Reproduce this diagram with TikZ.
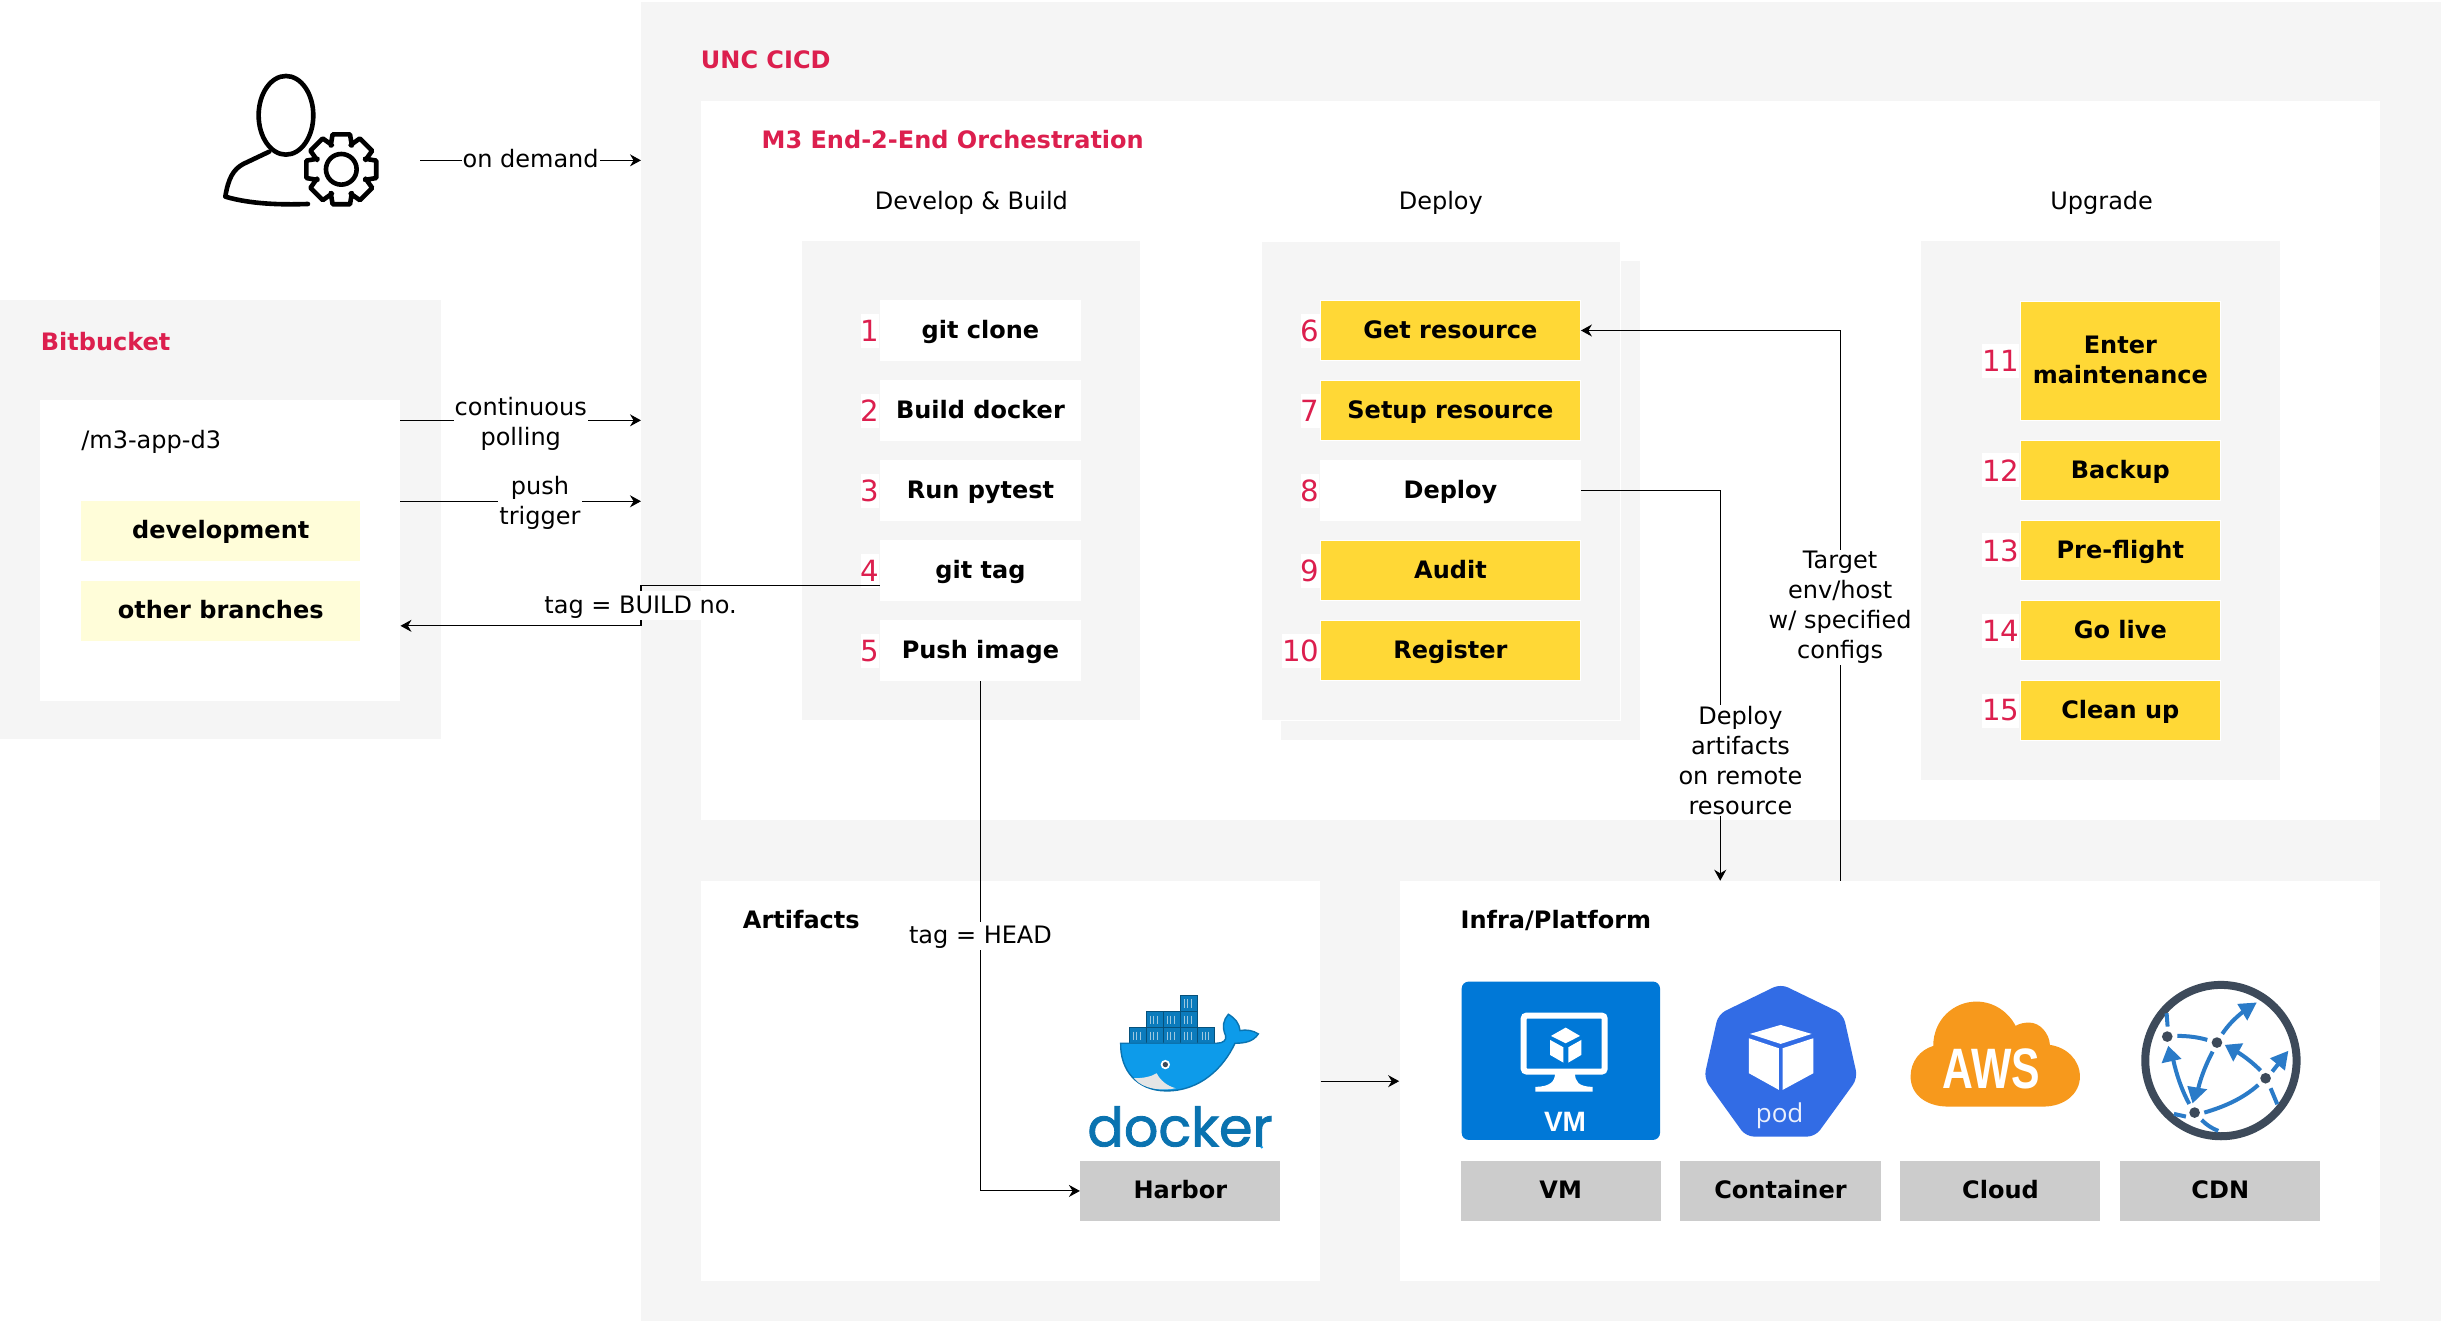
\documentclass[tikz,border=0pt]{standalone}
\usepackage{fontspec}
\usepackage{graphicx}
\setmainfont{DejaVu Sans}
\newfontfamily\logofont[FakeBold=1.6]{Poppins}
\newfontfamily\awsfont{Liberation Sans}
\newfontfamily\podfont{Open Sans}
\usetikzlibrary{arrows.meta}
\definecolor{panelgray}{HTML}{F5F5F5}
\definecolor{crimson}{HTML}{DC1F4E}
\definecolor{stepyellow}{HTML}{FFD836}
\definecolor{branchyellow}{HTML}{FFFDD9}
\definecolor{tilegray}{HTML}{CCCCCC}
\definecolor{dockerblue}{HTML}{0D9BEA}
\definecolor{dockerdark}{HTML}{0A73B0}
\definecolor{vmblue}{HTML}{0078D7}
\definecolor{podblue}{HTML}{326CE5}
\definecolor{awsorange}{HTML}{F7991C}
\definecolor{cdndark}{HTML}{3D4A5A}
\definecolor{cdnblue}{HTML}{2A7BC8}
\newcommand{\pxu}{0.77838pt}
\tikzset{wh/.style 2 args={minimum width=#1*\pxu,minimum height=#2*\pxu}}
\begin{document}
\begin{tikzpicture}[x=0.77838pt,y=-0.77838pt]
    \tikzstyle{every node}=[font=\fontsize{12}{15}\selectfont]
    \tikzstyle{oneline} = [text height=10.1pt, text depth=2.5pt];
    \tikzstyle{panel} = [fill=panelgray, inner sep=0pt];
    \tikzstyle{whitebox} = [fill=white, inner sep=0pt];
    \tikzstyle{stepbox} = [whitebox, font=\fontsize{12}{15}\selectfont\bfseries];
    \tikzstyle{yellowbox} = [stepbox, fill=stepyellow, draw=white, line width=0.5pt];
    \tikzstyle{branch} = [stepbox, oneline, fill=branchyellow, wh={179}{38.5}];
    \tikzstyle{tile} = [stepbox, oneline, fill=tilegray, wh={128.5}{38.5}];
    \tikzstyle{num} = [fill=white, text=crimson, inner sep=0pt, minimum height=17pt, anchor=east, font=\fontsize{14.6}{15}\selectfont];
    \tikzstyle{title} = [oneline, anchor=west, inner sep=0pt, text=crimson, font=\fontsize{12}{15}\selectfont\bfseries];
    \tikzstyle{head} = [oneline, anchor=west, inner sep=0pt, font=\fontsize{12}{15}\selectfont\bfseries];
    \tikzstyle{lbl} = [fill=white, inner xsep=0.5pt, inner ysep=0.8pt, align=center];
    \tikzstyle{marrow} = [black, line width=0.55pt, -{Stealth[length=5.5pt,width=6pt,inset=1.8pt]}];
    \tikzstyle{zoomed} = [x=0.16667pt,y=-0.16667pt];

    \useasboundingbox (0,0) rectangle (1568,848.55);

    % panels
    \node[panel, wh={1156}{848}] (unc) at (990,425) {};
    \node[whitebox, wh={1079}{462}] (orch) at (989.5,296) {};
    \node[panel, wh={217}{307.7}] (build) at (623.5,308.6) {};
    \node[panel, wh={230.6}{307.7}] (deployback) at (938.1,321.5) {};
    \node[panel, draw=white, line width=0.3pt, wh={230.6}{307.7}] (deploy) at (925.3,308.6) {};
    \node[panel, wh={230.6}{346}] (upgrade) at (1349,328) {};
    \node[panel, wh={283}{282}] (bit) at (141.5,334) {};
    \node[whitebox, wh={231}{193}] (bitbox) at (141.5,353.5) {};
    \node[whitebox, wh={398}{257}] (artifacts) at (649,694.5) {};
    \node[whitebox, wh={630}{257}] (infra) at (1214,694.5) {};

    % texts
    \node[title] (unc-t) at (450,39) {UNC CICD};
    \node[title] (orch-t) at (489,90.5) {M3 End-2-End Orchestration};
    \node[title] (bit-t) at (26,220) {Bitbucket};
    \node[oneline] (build-t) at (624,129.5) {Develop \& Build};
    \node[oneline] (deploy-t) at (925.5,129.5) {Deploy};
    \node[oneline] (upgrade-t) at (1350,129.5) {Upgrade};
    \node[oneline, anchor=west, inner sep=0pt] (repo) at (52,283.5) {/m3-app-d3};
    \node[head] (artifacts-t) at (477,591.5) {Artifacts};
    \node[head] (infra-t) at (938,591.5) {Infra/Platform};

    \node[branch] (dev) at (141.8,340.8) {development};
    \node[branch] (other) at (141.8,392.2) {other branches};

    % steps
    \foreach \n/\t/\y in {1/git clone/212.3,2/Build docker/263.7,3/Run pytest/315.1,4/git tag/366.5,5/Push image/417.9} {
        \node[stepbox, oneline, wh={129.1}{39.2}] (S-\n) at (629.8,\y) {\t};
        \node[num] (N-\n) at (S-\n.west) {\n};
    }

    \foreach \n/\t/\y in {6/Get resource/212.3,7/Setup resource/263.7,9/Audit/366.5,10/Register/417.9} {
        \node[yellowbox, oneline, wh={167}{38.5}] (S-\n) at (931.7,\y) {\t};
        \node[num] (N-\n) at (S-\n.west) {\n};
    }
    \node[stepbox, oneline, wh={167.6}{39.2}] (S-8) at (931.7,315.1) {Deploy};
    \node[num] (N-8) at (S-8.west) {8};

    \node[yellowbox, align=center, wh={128.5}{76.5}] (S-11) at (1362,231.6) {\raisebox{0.7pt}{Enter}\\\raisebox{0.7pt}{maintenance}};
    \node[num] (N-11) at (S-11.west) {11};
    \foreach \n/\t/\y in {12/Backup/302.2,13/Pre-flight/353.6,14/Go live/405,15/Clean up/456.4} {
        \node[yellowbox, oneline, wh={128.5}{38.5}] (S-\n) at (1362,\y) {\t};
        \node[num] (N-\n) at (S-\n.west) {\n};
    }

    % platform tiles
    \node[tile] (harbor) at (758.2,765) {Harbor};
    \node[tile] (vm) at (1002.5,765) {VM};
    \node[tile] (container) at (1143.7,765) {Container};
    \node[tile] (cloud) at (1285,765) {Cloud};
    \node[tile] (cdn) at (1426.2,765) {CDN};

    % connectors
    \coordinate (user) at (270,103);
    \coordinate (c-poll) at (0,270);
    \coordinate (c-push) at (0,322);
    \coordinate (c-tag) at (0,376);
    \coordinate (c-back) at (0,402);
    \coordinate (c-depl) at (1105,0);
    \coordinate (c-target) at (1182,0);

    \draw[marrow] (user) -- node[lbl, oneline] (on-demand) {on demand} (user -| unc.west);
    \draw[marrow] (c-poll -| bitbox.east) -- node[lbl, yshift=-1.8pt] (poll) {continuous\\polling} (c-poll -| unc.west);
    \draw[marrow] (c-push -| bitbox.east) -- node[lbl, pos=0.58, yshift=-1pt] (push) {push\\trigger} (c-push -| unc.west);
    \draw[marrow] (c-tag -| S-4.west) -- (c-tag -| unc.west) -- (c-back -| unc.west) -- (c-back -| bitbox.east);
    \node[lbl, oneline] (tag-build) at (411.5,389) {tag = BUILD no.};
    \draw[marrow] (S-5.south) |- node[lbl, oneline, pos=0.25] (tag-head) {tag = HEAD} (harbor.west);
    \draw[marrow] (artifacts.east) -- (infra.west);
    \draw[marrow] (S-8.east) -| (c-depl |- infra.north);
    \node[lbl] (deploy-l) at (1118,488.5) {Deploy\\artifacts\\on remote\\resource};
    \draw[marrow] (c-target |- infra.north) |- node[lbl, pos=0.25, yshift=-1pt] (target) {Target\\env/host\\w/ specified\\configs} (S-6.east);

    % user icon
    \begin{scope}[shift={(115.6,32.1)},zoomed,line width=2.3pt,line cap=round,line join=round]
        \draw (318,196) ellipse [x radius=82,y radius=118];
        \draw (268,305) -- (190,342) .. controls (160,358) and (145,385) .. (136,440) .. controls (210,462) and (300,465) .. (384,462);
        \begin{scope}[shift={(484,358)}]
            \draw (-24:78) \foreach \a in {0,45,...,315} { -- (\a-24:78) -- (\a-14:108) -- (\a+14:108) -- (\a+24:78) } -- cycle;
            \draw (0,0) circle (46);
        \end{scope}
    \end{scope}

    % docker icon
    \begin{scope}[shift={(680.9,616.6)},zoomed]
        \foreach \cx/\cy in {207/203,258/203,309/203,360/203,413/203,258/155,309/155,360/155,360/106} {
            \fill[dockerdark!80!dockerblue] (\cx,\cy) rectangle ++(51,48);
            \foreach \s in {13,23,33} \draw[white!60!dockerdark, line width=0.3pt] (\cx+\s,\cy+12) -- ++(0,26);
            \draw[dockerdark!70!black, line width=0.3pt] (\cx,\cy) rectangle ++(51,48);
        }
        \draw[fill=dockerblue, draw=dockerdark, line width=0.7pt] (182,250) -- (470,250) .. controls (490,250) and (500,240) .. (497,228) .. controls (485,200) and (490,180) .. (505,163) .. controls (525,175) and (538,190) .. (540,212) .. controls (560,208) and (580,212) .. (595,222) .. controls (580,245) and (555,250) .. (525,250) .. controls (490,325) and (420,393) .. (320,393) .. controls (230,393) and (180,330) .. (182,250) -- cycle;
        \fill[white!90!black] (222,355) .. controls (250,355) and (275,350) .. (290,340) .. controls (300,360) and (320,378) .. (347,385) .. controls (310,393) and (250,390) .. (222,355) -- cycle;
        \fill[white] (316,314) circle (14);
        \fill[cdndark] (316,314) circle (8);
        \node[text=dockerdark, inner sep=0pt, font=\fontsize{27}{27}\logofont] (docker-t) at (360,500) {docker};
        \fill[dockerblue] (605,562) circle (4);
    \end{scope}

    % vm icon
    \begin{scope}[shift={(925,616.6)},zoomed]
        \fill[vmblue, rounded corners=3.5pt] (65,65) rectangle (660,540);
        \draw[white, line width=3pt, rounded corners=1.5pt] (251,167) rectangle (494,335);
        \fill[white] (345,340) -- (405,340) .. controls (405,365) and (415,380) .. (458,381) -- (458,395) -- (286,395) -- (286,381) .. controls (330,380) and (345,365) .. (345,340) -- cycle;
        \fill[white] (377,203) -- (420,228) -- (377,250) -- (333,228) -- cycle;
        \fill[white] (330,240) -- (370,262) -- (370,308) -- (330,285) -- cycle;
        \fill[white] (385,262) -- (424,240) -- (424,285) -- (385,308) -- cycle;
        \node[text=white, inner sep=0pt, font=\fontsize{14}{14}\awsfont\bfseries] (vm-t) at (375,485) {VM};
    \end{scope}

    % pod icon
    \begin{scope}[shift={(1072.7,616.6)},zoomed]
        \fill[podblue, rounded corners=4pt] (332,72) -- (520,163) -- (563,355) -- (436,530) -- (228,530) -- (102,355) -- (145,163) -- cycle;
        \fill[white] (332,195) -- (425,222) -- (332,252) -- (240,222) -- cycle;
        \fill[white] (237,235) -- (327,265) -- (327,390) -- (237,340) -- cycle;
        \fill[white] (338,265) -- (430,235) -- (430,340) -- (338,390) -- cycle;
        \node[text=white!90!podblue, inner sep=0pt, font=\fontsize{13}{13}\podfont] (pod-t) at (329,468) {pod};
    \end{scope}

    % cloud and cdn icons
    \begin{scope}[shift={(1214,616.6)},zoomed]
        \fill[awsorange] (175,440) .. controls (110,440) and (62,405) .. (62,350) .. controls (62,305) and (90,270) .. (130,258) .. controls (130,180) and (190,125) .. (260,125) .. controls (310,125) and (355,155) .. (377,198) .. controls (390,190) and (405,188) .. (418,188) .. controls (450,188) and (478,220) .. (480,255) .. controls (530,262) and (570,300) .. (570,350) .. controls (570,400) and (525,440) .. (460,440) -- cycle;
        \node[text=white, inner sep=0pt, font=\fontsize{28.5}{29}\awsfont\bfseries] (aws-t) at (305,327) {\scalebox{0.75}[1]{AWS}};

        \draw[cdndark, line width=4pt] (993,302) circle (227);
        \begin{scope}[cdnblue, line width=2pt]
            \draw (862,228) .. controls (895,228) and (925,232) .. (952,240);
            \draw (997,222) .. controls (1015,195) and (1035,175) .. (1060,155);
            \draw (968,275) .. controls (950,310) and (935,345) .. (925,385);
            \draw (898,432) .. controls (875,390) and (860,345) .. (850,300);
            \draw (1112,332) .. controls (1090,310) and (1065,290) .. (1040,275);
            \draw (1147,335) -- (1165,312);
            \draw (943,458) .. controls (1005,440) and (1060,415) .. (1105,375);
            \draw (1142,385) -- (1162,433);
            \draw (830,160) -- (833,200);
            \draw (852,462) -- (888,470);
            \draw (935,480) .. controls (950,495) and (965,505) .. (985,513);
            \fill (1100,128) -- (1042,132) -- (1072,182) -- cycle;
            \fill (908,430) -- (892,378) -- (952,388) -- cycle;
            \fill (835,258) -- (815,310) -- (875,297) -- cycle;
            \fill (1005,255) -- (1060,250) -- (1030,305) -- cycle;
            \fill (1195,273) -- (1140,295) -- (1185,332) -- cycle;
        \end{scope}
        \foreach \cx/\cy in {832/230,981/248,1127/355,914/458}
            \fill[cdndark] (\cx,\cy) circle (16);
    \end{scope}

\end{tikzpicture}
\end{document}
